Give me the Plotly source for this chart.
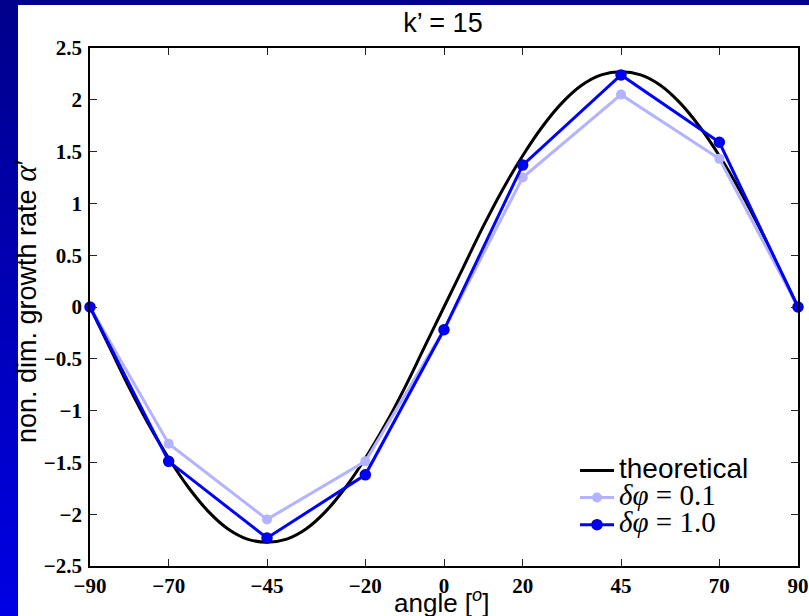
import plotly.graph_objects as go

# angles in degrees
angles = [-90, -70, -45, -20, 0, 20, 45, 70, 90]
rate_dphi_01 = [0.0, -1.32, -2.05, -1.49, -0.22, 1.25, 2.05, 1.43, 0.0]
rate_dphi_10 = [0.0, -1.49, -2.23, -1.62, -0.22, 1.37, 2.24, 1.59, 0.0]

theory_angles = [-90, -85, -80, -75, -70, -65, -60, -55, -50, -45, -40, -35, -30,
                 -25, -20, -15, -10, -5, 0, 5, 10, 15, 20, 25, 30, 35, 40, 45,
                 50, 55, 60, 65, 70, 75, 80, 85, 90]
theory_rate = [0.0, -0.39, -0.78, -1.14, -1.46, -1.74, -1.97, -2.14, -2.24, -2.27,
               -2.24, -2.14, -1.97, -1.74, -1.46, -1.14, -0.78, -0.39, 0.0, 0.39,
               0.78, 1.14, 1.46, 1.74, 1.97, 2.14, 2.24, 2.27, 2.24, 2.14, 1.97,
               1.74, 1.46, 1.14, 0.78, 0.39, 0.0]

x_ticks = [-90, -70, -45, -20, 0, 20, 45, 70, 90]

W, H = 809, 616
ML, MR, MT, MB = 90, 11, 48, 50
PW, PH = W - ML - MR, H - MT - MB


def px_x(x):
    return (x - ML) / PW


def px_y(y):
    return (H - MB - y) / PH


LEG = '<span style="font-family:Liberation Serif;font-size:29px">%s</span>'

fig = go.Figure()
fig.add_trace(go.Scatter(
    x=theory_angles, y=theory_rate, mode='lines',
    name='<span style="font-size:28px">theoretical</span>',
    line=dict(color='black', width=3, shape='spline'), cliponaxis=False))
fig.add_trace(go.Scatter(
    x=angles, y=rate_dphi_01, mode='lines+markers',
    name=LEG % '<i>δφ</i> = 0.1',
    line=dict(color='#b3b3ff', width=3),
    marker=dict(color='#b3b3ff', size=10), cliponaxis=False))
fig.add_trace(go.Scatter(
    x=angles, y=rate_dphi_10, mode='lines+markers',
    name=LEG % '<i>δφ</i> = 1.0',
    line=dict(color='#0000ff', width=3),
    marker=dict(color='#0000ff', size=10, line=dict(color='#0000cc', width=1.5)),
    cliponaxis=False))

# blue slide border: top band and a gradient strip on the left
shapes = [dict(type='rect', xref='paper', yref='paper',
               x0=px_x(0), x1=px_x(W), y0=px_y(5), y1=px_y(0),
               fillcolor='rgb(0,0,140)', line=dict(width=0), layer='below')]
n = 40
for i in range(n):
    t = i / (n - 1)
    c = 'rgb(0,0,%d)' % int(140 + (228 - 140) * t)
    y_top = i * H / n
    y_bot = (i + 1) * H / n + 3
    shapes.append(dict(
        type='rect', xref='paper', yref='paper',
        x0=px_x(0), x1=px_x(18), y0=px_y(y_bot), y1=px_y(y_top),
        fillcolor=c, line=dict(width=0), layer='below'))

tick_font = dict(family='Liberation Serif', size=21, color='black', weight='bold')
axis_common = dict(showline=True, linecolor='black', linewidth=1.5, mirror='ticks',
                   ticks='inside', ticklen=7, tickcolor='#222', tickwidth=1,
                   showgrid=False, zeroline=False, tickfont=tick_font,
                   automargin=False)

fig.update_layout(
    width=W, height=H,
    margin=dict(l=ML, r=MR, t=MT, b=MB),
    paper_bgcolor='white', plot_bgcolor='white',
    font=dict(family='Liberation Sans', color='black', size=26),
    title=dict(text='k’ = 15', x=443 / W, xanchor='center', xref='container',
               y=1 - 23 / H, yanchor='middle', yref='container',
               font=dict(family='Liberation Sans', size=27)),
    xaxis=dict(range=[-90, 90], tickvals=x_ticks,
               ticktext=[str(v).replace('-', '−') for v in x_ticks],
               ticklabelstandoff=0, **axis_common),
    yaxis=dict(range=[-2.5, 2.5], dtick=0.5, ticklabelstandoff=2, **axis_common),
    legend=dict(x=px_x(575), y=px_y(452), xanchor='left', yanchor='top',
                bgcolor='rgba(0,0,0,0)', font=dict(size=18.5),
                tracegroupgap=0, itemwidth=34),
    shapes=shapes,
    annotations=[
        dict(text='angle [<sup><i>o</i></sup>]', xref='paper', yref='paper',
             x=px_x(441), y=px_y(601), xanchor='center', yanchor='middle',
             showarrow=False, font=dict(family='Liberation Sans', size=26)),
        dict(text='non. dim. growth rate <span style="font-family:Liberation Serif;'
                  'font-size:31px"><i>α</i>′</span>',
             xref='paper', yref='paper', textangle=-90,
             x=px_x(25), y=px_y(301), xanchor='center', yanchor='middle',
             showarrow=False, font=dict(family='Liberation Sans', size=27)),
    ],
)

# drop the page's default body margin so the figure sits at the window corner
fig.write_html('out.html', config={'displayModeBar': False},
               post_script="document.body.style.margin='0';")
